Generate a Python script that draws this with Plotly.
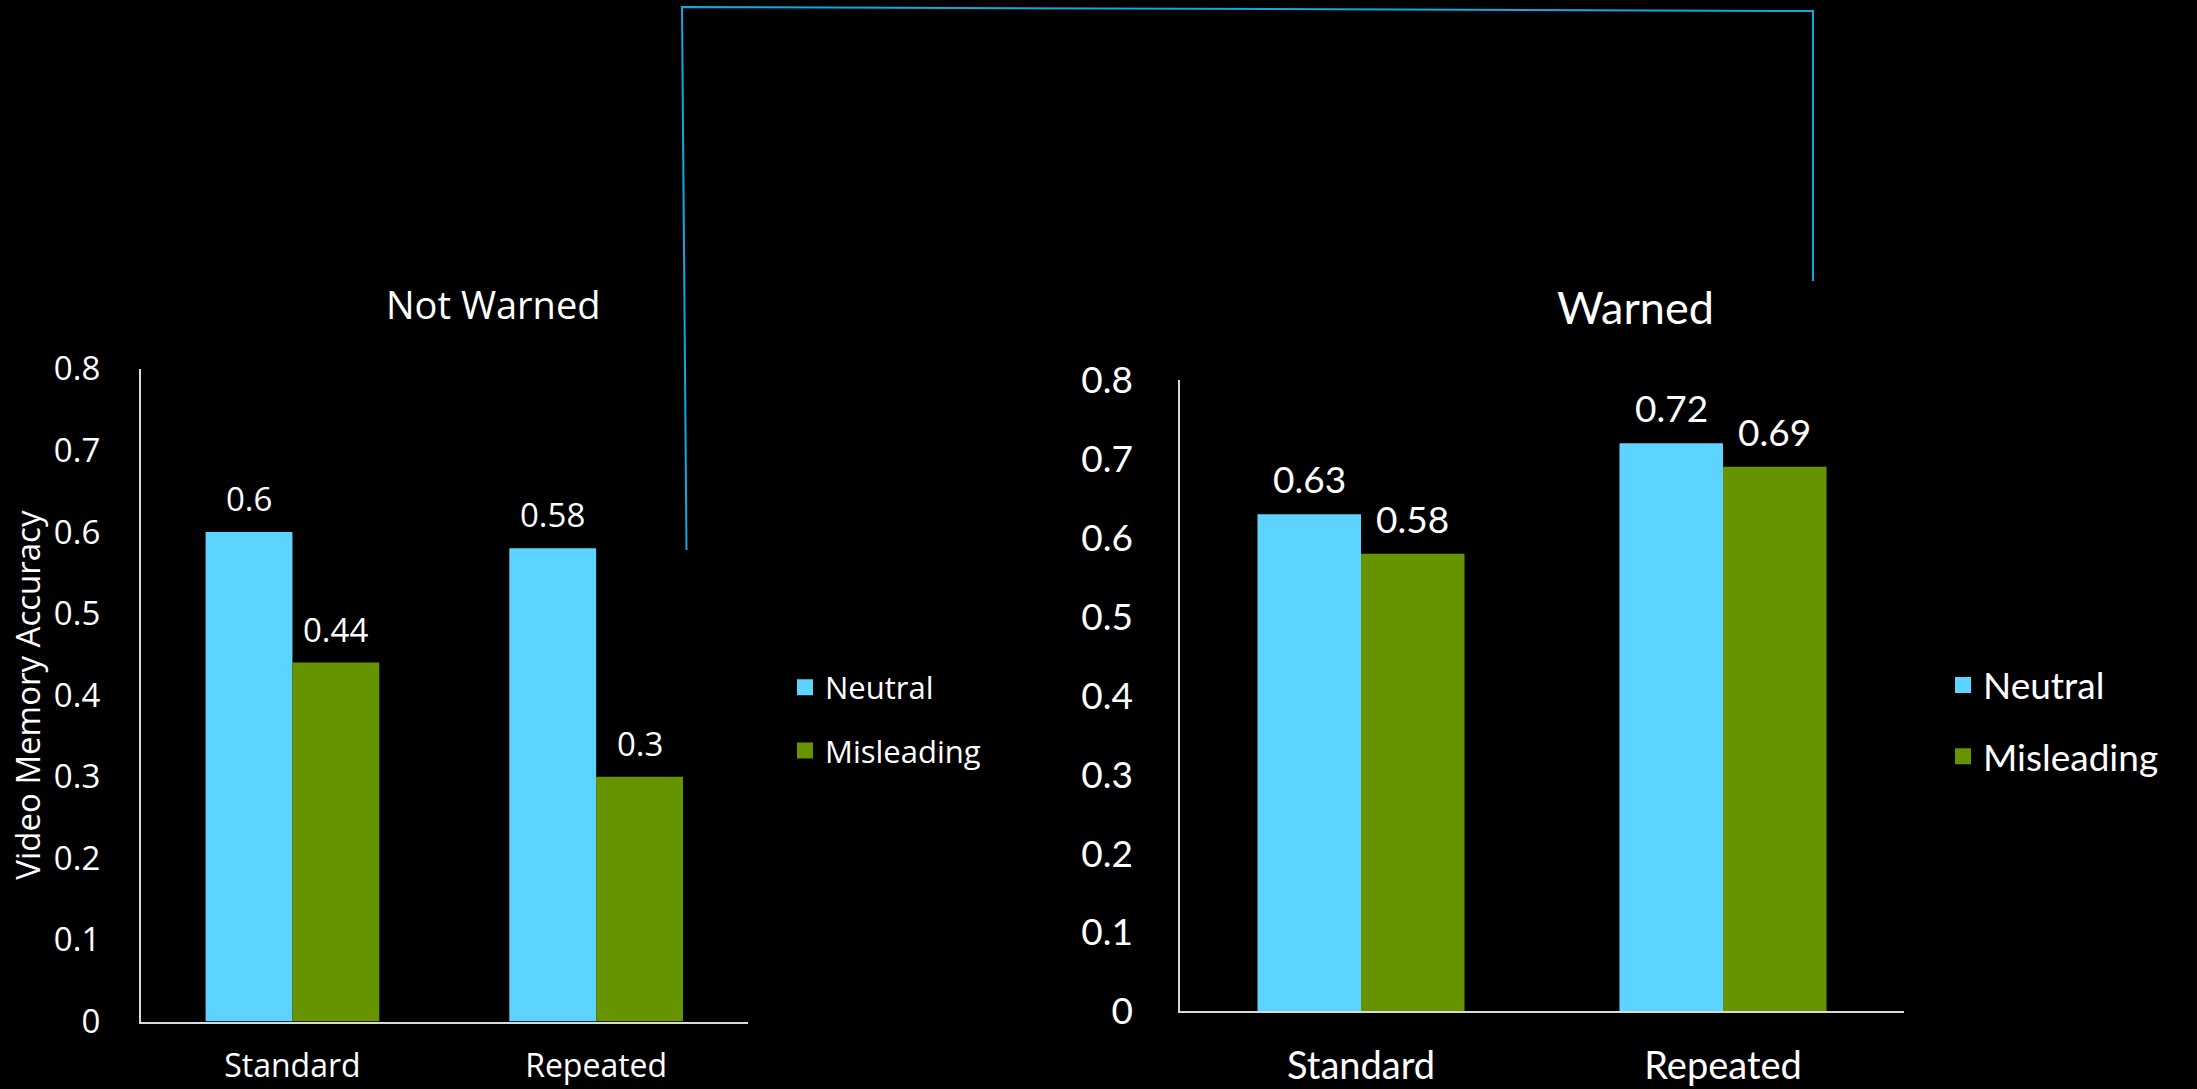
import plotly.graph_objects as go

# ---- data ----
categories = ["Standard", "Repeated"]
series_names = ["Neutral", "Misleading"]
not_warned_neutral = [0.6, 0.58]
not_warned_misleading = [0.44, 0.3]
warned_neutral = [0.63, 0.72]
warned_misleading = [0.58, 0.69]
y_ticks = [0, 0.1, 0.2, 0.3, 0.4, 0.5, 0.6, 0.7, 0.8]
panel_titles = ["Not Warned", "Warned"]
y_title = "Video Memory Accuracy"

W, H = 2197, 1089
C_NEU = "#5DD3FF"
C_MIS = "#669400"
C_LINE = "#10A8E0"
F_LEFT = "Open Sans, Noto Sans, sans-serif"
F_RIGHT = "Lato, Carlito, sans-serif"
BARGAP = 0.428

fig = go.Figure()

panels = [
    dict(xa="x", ya="y", neu=not_warned_neutral, mis=not_warned_misleading,
         legend="legend", font=F_LEFT, fs=33),
    dict(xa="x2", ya="y2", neu=warned_neutral, mis=warned_misleading,
         legend="legend2", font=F_RIGHT, fs=37),
]

for p in panels:
    for name, vals, col in [(series_names[0], p["neu"], C_NEU),
                            (series_names[1], p["mis"], C_MIS)]:
        fig.add_trace(go.Bar(x=categories, y=vals, name=name, marker_color=col,
                             marker_line_width=0, xaxis=p["xa"], yaxis=p["ya"],
                             showlegend=False))
    # legend entries with larger square swatches
    for i, (name, col) in enumerate([(series_names[0], C_NEU), (series_names[1], C_MIS)]):
        fig.add_trace(go.Scatter(x=[None], y=[None], mode="markers", name=name,
                                 marker=dict(symbol="square", color=col,
                                             size=21 if p["legend"] == "legend" else 24),
                                 xaxis=p["xa"], yaxis=p["ya"], legend=p["legend"],
                                 legendgroup=p["legend"] + name, showlegend=True))

# data labels
annotations = []
half = (1 - BARGAP) / 4
for p, ax, ay, ys in [(panels[0], "x", "y", 9), (panels[1], "x2", "y2", 11)]:
    for i, cat in enumerate(categories):
        for off, vals in [(-half, p["neu"]), (half, p["mis"])]:
            annotations.append(dict(x=i + off, y=vals[i], xref=ax, yref=ay,
                                    text=str(vals[i]), showarrow=False,
                                    yanchor="bottom", yshift=ys,
                                    font=dict(family=p["font"], size=p["fs"], color="white")))

# panel titles
annotations.append(dict(x=493 / W, y=1 - 304 / H, xref="paper", yref="paper",
                        text=panel_titles[0], showarrow=False, xanchor="center", yanchor="middle",
                        font=dict(family=F_LEFT, size=38, color="white")))
annotations.append(dict(x=1635 / W, y=1 - 307 / H, xref="paper", yref="paper",
                        text=panel_titles[1], showarrow=False, xanchor="center", yanchor="middle",
                        font=dict(family=F_RIGHT, size=45, color="white")))

axis_common = dict(showgrid=False, zeroline=False, showline=True, linecolor="#D9D9D9",
                   linewidth=1.5, ticks="", automargin=False)

fig.update_layout(
    width=W, height=H,
    margin=dict(l=0, r=0, t=0, b=0),
    paper_bgcolor="black", plot_bgcolor="black",
    barmode="group", bargap=BARGAP, bargroupgap=0,
    xaxis=dict(domain=[140.6 / W, 748 / W], anchor="y", **axis_common,
               tickfont=dict(family=F_LEFT, size=32, color="white"),
               ticklabelstandoff=15),
    yaxis=dict(domain=[1 - 1021.5 / H, 1 - 368.8 / H], anchor="x", range=[0, 0.8],
               tickvals=y_ticks, **axis_common,
               tickfont=dict(family=F_LEFT, size=33, color="white"),
               ticklabelstandoff=32,
               title=dict(text=y_title, standoff=3,
                          font=dict(family=F_LEFT, size=33, color="white"))),
    xaxis2=dict(domain=[1180 / W, 1904 / W], anchor="y2", **axis_common,
                tickfont=dict(family=F_RIGHT, size=38, color="white"),
                ticklabelstandoff=20),
    yaxis2=dict(domain=[1 - 1011.4 / H, 1 - 380 / H], anchor="x2", range=[0, 0.8],
                tickvals=y_ticks, **axis_common,
                tickfont=dict(family=F_RIGHT, size=37, color="white"),
                ticklabelstandoff=38),
    legend=dict(x=785 / W, y=1 - 719 / H, xanchor="left", yanchor="middle",
                bgcolor="rgba(0,0,0,0)", traceorder="grouped", tracegroupgap=20,
                font=dict(family=F_LEFT, size=31, color="white")),
    legend2=dict(x=1943 / W, y=1 - 721 / H, xanchor="left", yanchor="middle",
                 bgcolor="rgba(0,0,0,0)", traceorder="grouped", tracegroupgap=20,
                 font=dict(family=F_RIGHT, size=37, color="white")),
    annotations=annotations,
    shapes=[dict(type="path", xref="paper", yref="paper",
                 path=(f"M {686.5 / W},{1 - 550 / H} L {682 / W},{1 - 7 / H} "
                       f"L {1813 / W},{1 - 11 / H} L {1813 / W},{1 - 281 / H}"),
                 line=dict(color=C_LINE, width=2))],
)

fig.write_html("out.html")
